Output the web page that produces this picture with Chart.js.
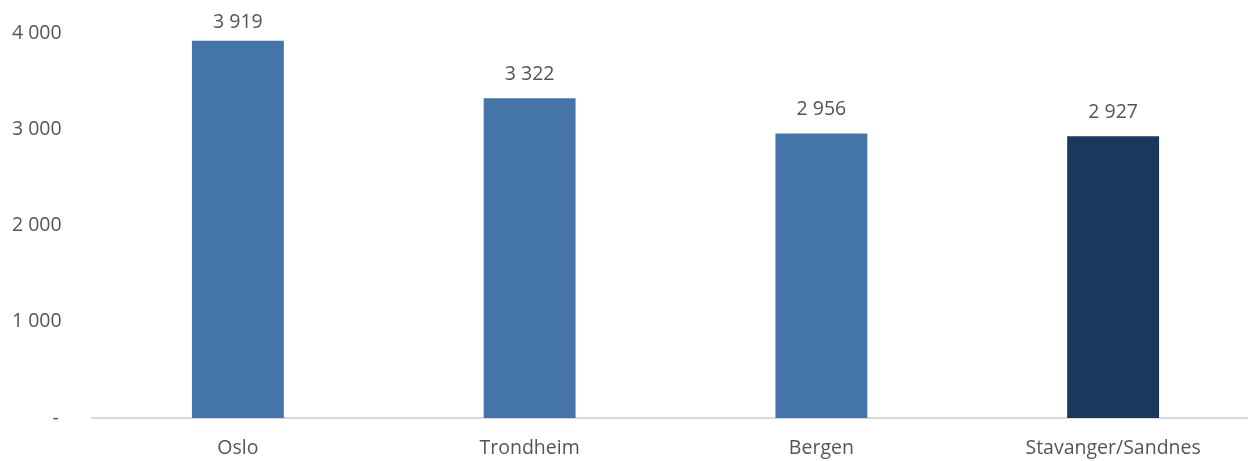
<!DOCTYPE html>
<html>
<head>
<meta charset="utf-8">
<script src="https://cdn.jsdelivr.net/npm/chart.js@4"></script>
<style>
  html, body { margin: 0; padding: 0; background: #fff; overflow: hidden; }
  #wrap { width: 1262px; height: 461px; }
</style>
</head>
<body>
<div id="wrap"><canvas id="barChart"></canvas></div>
<script>
"use strict";

const categories = ["Oslo", "Trondheim", "Bergen", "Stavanger/Sandnes"];
const values = [3919, 3322, 2956, 2927];
const barColors = ["#4474A8", "#4474A8", "#4474A8", "#1A385D"];
const yTicks = [0, 1000, 2000, 3000, 4000];

const textColor = "#555555";
const fontFamily = "'Open Sans', 'Noto Sans', sans-serif";
const fontSize = 19.5;

function formatNumber(v) {
    return String(v).replace(/\B(?=(\d{3})+(?!\d))/g, " ");
}

// value labels above bars
const valueLabels = {
    id: "valueLabels",
    afterDatasetsDraw(chart) {
        const ctx = chart.ctx;
        const meta = chart.getDatasetMeta(0);
        ctx.save();
        ctx.font = fontSize + "px " + fontFamily;
        ctx.fillStyle = textColor;
        ctx.textAlign = "center";
        ctx.textBaseline = "middle";
        meta.data.forEach((bar, i) => {
            let y = Math.max(bar.y - 24, 22);
            ctx.fillText(formatNumber(values[i]), bar.x, y);
        });
        ctx.restore();
    }
};

const ctx = document.getElementById("barChart").getContext("2d");
new Chart(ctx, {
    type: "bar",
    data: {
        labels: categories,
        datasets: [{
            data: values,
            backgroundColor: barColors,
            borderWidth: 0,
            barPercentage: 1,
            categoryPercentage: 0.315
        }]
    },
    options: {
        responsive: true,
        maintainAspectRatio: false,
        animation: false,
        layout: {
            padding: { left: 12, right: 3, top: 33, bottom: 0 }
        },
        plugins: {
            legend: { display: false },
            tooltip: { enabled: false }
        },
        scales: {
            x: {
                grid: { display: false },
                border: { display: true, color: "#D9D9D9", width: 2 },
                ticks: {
                    color: textColor,
                    padding: 11,
                    font: { family: fontFamily, size: fontSize }
                },
                afterFit: (scale) => { scale.height = 43; }
            },
            y: {
                min: 0,
                max: 4000,
                afterBuildTicks: (scale) => {
                    scale.ticks = yTicks.map(v => ({ value: v }));
                },
                grid: { display: false },
                border: { display: false },
                ticks: {
                    color: textColor,
                    crossAlign: "far",
                    font: { family: fontFamily, size: fontSize },
                    callback: (v) => v === 0 ? "        -" : formatNumber(v)
                },
                afterFit: (scale) => { scale.width = 80; }
            }
        }
    },
    plugins: [valueLabels]
});
</script>
</body>
</html>
